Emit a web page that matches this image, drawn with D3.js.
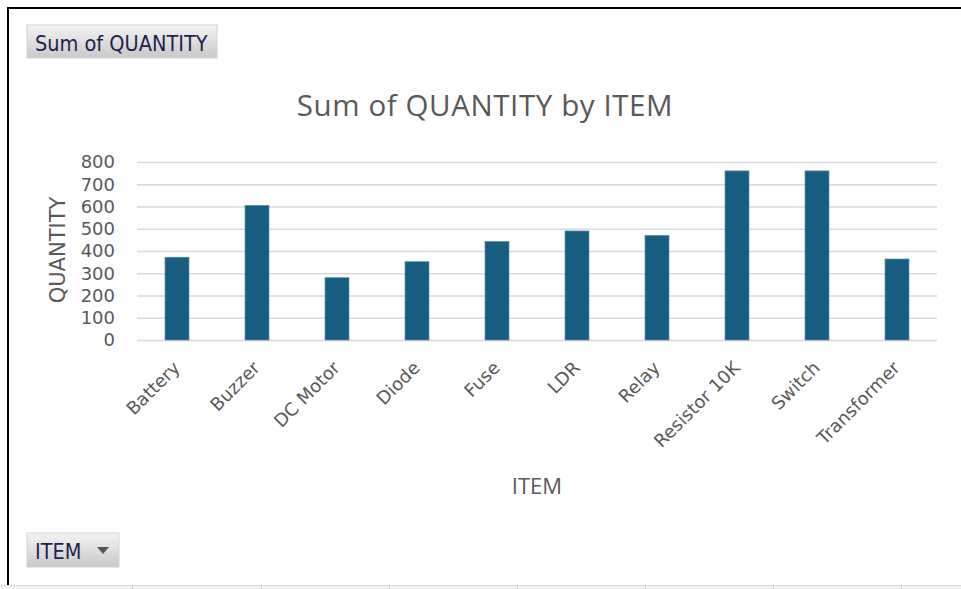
<!DOCTYPE html>
<meta charset="utf-8">
<style>
    body { margin: 0; background: #fff; }
    text { font-family: "DejaVu Sans", Verdana, sans-serif; }
    .grid line { stroke: #d9d9d9; stroke-width: 1.6; }
    .grid path { display: none; }
    .tick text { fill: #595959; }
</style>
<svg width="961" height="589"></svg>
<script src="https://cdn.jsdelivr.net/npm/d3@7"></script>
<script>

    // values
    var items = ["Battery", "Buzzer", "DC Motor", "Diode", "Fuse", "LDR", "Relay", "Resistor 10K", "Switch", "Transformer"];
    var quantities = [372, 605, 280, 352, 443, 490, 470, 760, 760, 364];
    var yTicks = [0, 100, 200, 300, 400, 500, 600, 700, 800];
    var sheetCols = [132, 261, 389, 517, 645, 773, 901];

    var svg = d3.select("svg"),
        width = +svg.attr("width"),
        height = +svg.attr("height");

    var data = items.map(function(d, i) { return {item: d, qty: quantities[i]}; });

    // spreadsheet cells peeking below the chart
    svg.append("rect")
        .attr("x", 0).attr("y", 585)
        .attr("width", width).attr("height", 4)
        .attr("fill", "#f2f2f2");
    svg.append("line")
        .attr("x1", 0).attr("x2", width)
        .attr("y1", 585.5).attr("y2", 585.5)
        .attr("stroke", "#dadada");
    svg.selectAll(".col")
        .data(sheetCols)
        .enter().append("line")
        .attr("x1", function(d) { return d + 0.5; })
        .attr("x2", function(d) { return d + 0.5; })
        .attr("y1", 585).attr("y2", 589)
        .attr("stroke", "#d0d0d0");

    // chart frame
    svg.append("line")
        .attr("x1", 7).attr("x2", width)
        .attr("y1", 8).attr("y2", 8)
        .attr("stroke", "#000").attr("stroke-width", 2);
    svg.append("line")
        .attr("x1", 8).attr("x2", 8)
        .attr("y1", 7).attr("y2", 585)
        .attr("stroke", "#000").attr("stroke-width", 2);

    var defs = svg.append("defs");
    var grad = defs.append("linearGradient")
        .attr("id", "btn")
        .attr("x1", "0%").attr("y1", "0%")
        .attr("x2", "0%").attr("y2", "100%");
    grad.append("stop").attr("offset", "0%").attr("stop-color", "#f3f3f3");
    grad.append("stop").attr("offset", "100%").attr("stop-color", "#c9c9c9");

    function fieldButton(x, y, w, h, label, arrow) {
        var g = svg.append("g").attr("transform", "translate(" + x + "," + y + ")");
        g.append("rect")
            .attr("width", w).attr("height", h)
            .attr("fill", "url(#btn)")
            .attr("stroke", "#d4d4d4");
        g.append("text")
            .attr("x", 8).attr("y", h / 2 + 9)
            .attr("fill", "#1f1f4f")
            .style("font-family", "'DejaVu Sans Condensed', sans-serif")
            .style("font-size", "21.5px")
            .text(label);
        if (arrow) {
            g.append("path")
                .attr("d", "M70," + (h / 2 - 3) + "h12l-6,7z")
                .attr("fill", "#555");
        }
    }

    fieldButton(27, 25, 190, 33, "Sum of QUANTITY", false);
    fieldButton(27, 533, 92, 34, "ITEM", true);

    var x = d3.scaleBand()
        .domain(items)
        .range([137, 937])
        .paddingInner(0.7)
        .paddingOuter(0.35);

    var y = d3.scaleLinear()
        .domain([0, 800])
        .range([340, 162]);

    svg.append("g")
        .attr("class", "grid")
        .attr("transform", "translate(137,0)")
        .call(d3.axisRight(y).tickValues(yTicks).tickSize(800).tickFormat(""));

    var yAxis = svg.append("g")
        .attr("transform", "translate(115,0)")
        .call(d3.axisLeft(y).tickValues(yTicks).tickSize(0).tickPadding(0));
    yAxis.select(".domain").remove();
    yAxis.selectAll("text")
        .style("font-family", "'DejaVu Sans', sans-serif")
        .style("font-size", "18px");

    svg.selectAll(".bar")
        .data(data)
        .enter().append("rect")
        .attr("class", "bar")
        .attr("x", function(d) { return x(d.item); })
        .attr("width", x.bandwidth())
        .attr("y", function(d) { return y(d.qty); })
        .attr("height", function(d) { return y(0) - y(d.qty); })
        .attr("fill", "#175e80")
        .attr("stroke", "#5d8eaa")
        .attr("stroke-width", 0.7);

    var xAxis = svg.append("g")
        .attr("transform", "translate(0,340)")
        .call(d3.axisBottom(x).tickSize(0).tickPadding(0));
    xAxis.select(".domain").remove();
    xAxis.selectAll("text")
        .style("font-family", "'DejaVu Sans', sans-serif")
        .style("font-size", "18px")
        .style("text-anchor", "end")
        .attr("dy", null)
        .attr("transform", "translate(4,29) rotate(-45)");

    svg.append("text")
        .attr("x", 485).attr("y", 116)
        .attr("text-anchor", "middle")
        .attr("fill", "#595959")
        .style("font-family", "'Open Sans', sans-serif")
        .style("font-size", "29.5px")
        .style("letter-spacing", "0.6px")
        .text("Sum of QUANTITY by ITEM");

    svg.append("text")
        .attr("transform", "translate(65,250) rotate(-90)")
        .attr("text-anchor", "middle")
        .attr("fill", "#595959")
        .style("font-size", "21px")
        .text("QUANTITY");

    svg.append("text")
        .attr("x", 537).attr("y", 494)
        .attr("text-anchor", "middle")
        .attr("fill", "#595959")
        .style("font-family", "'Open Sans', sans-serif")
        .style("font-size", "22px")
        .text("ITEM");

</script>
